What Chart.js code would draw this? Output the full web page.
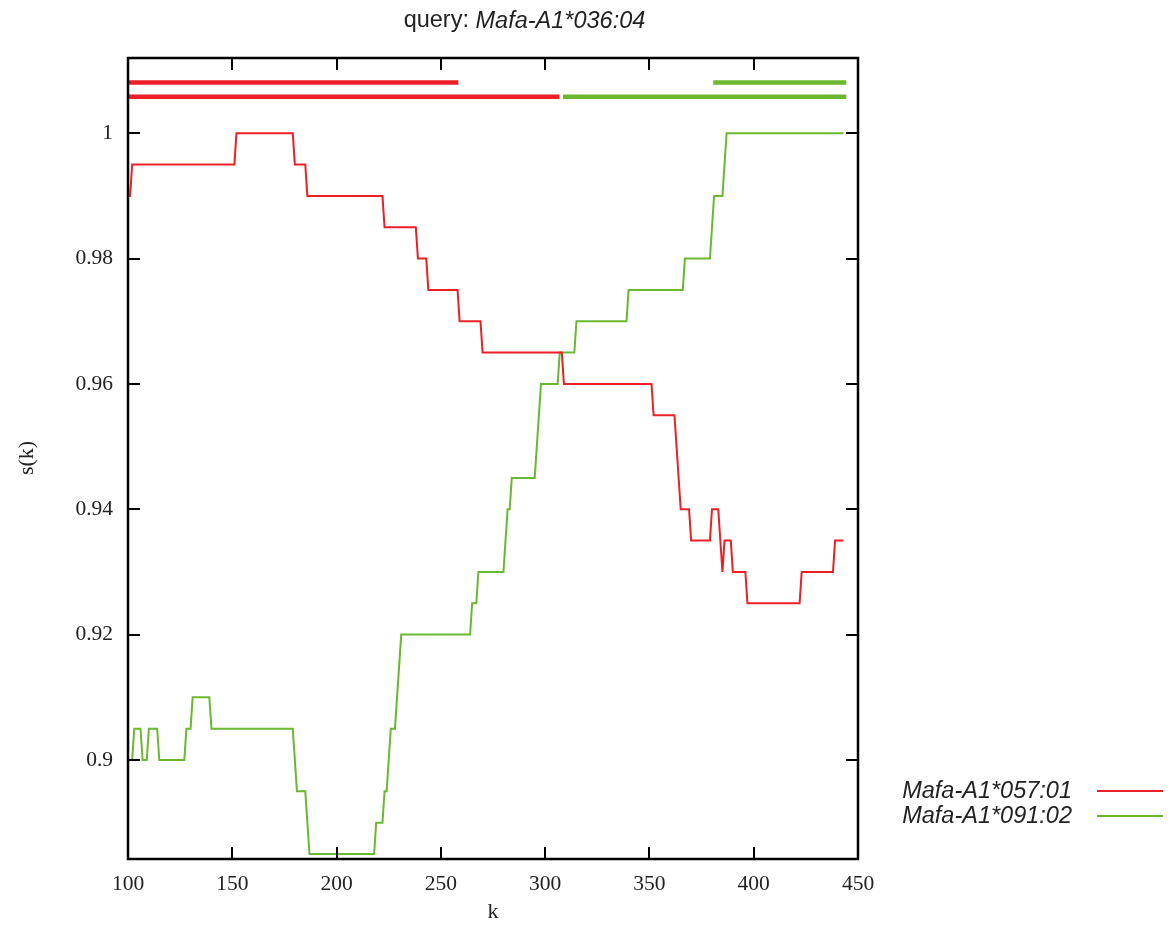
<!DOCTYPE html>
<html>
<head>
<meta charset="utf-8">
<script src="https://cdn.jsdelivr.net/npm/chart.js@4/dist/chart.umd.min.js"></script>
<style>
  html, body { margin: 0; padding: 0; background: #ffffff; }
  #wrap { width: 1171px; height: 931px; }
</style>
</head>
<body>
<div id="wrap"><canvas id="c" width="1171" height="931"></canvas></div>
<script>
// ---- data ----
const titlePrefix = "query: ";
const queryName = "Mafa-A1*036:04";
const xLabel = "k";
const yLabel = "s(k)";
const xTicks = [100, 150, 200, 250, 300, 350, 400, 450];
const yTicks = [0.9, 0.92, 0.94, 0.96, 0.98, 1];

const redLabel = "Mafa-A1*057:01";
const redK = [100, 101, 102, 151, 152, 179, 180, 185, 186, 222, 223, 238, 239, 243, 244, 258, 259, 269, 270, 308, 309,
              351, 352, 362, 365, 369, 370, 379, 380, 383, 385, 386, 389, 390, 396, 397, 422, 423, 438, 439, 443];
const redS = [0.99, 0.99, 0.995, 0.995, 1.0, 1.0, 0.995, 0.995, 0.99, 0.99, 0.985, 0.985, 0.98, 0.98, 0.975, 0.975, 0.97, 0.97, 0.965, 0.965, 0.96,
              0.96, 0.955, 0.955, 0.94, 0.94, 0.935, 0.935, 0.94, 0.94, 0.93, 0.935, 0.935, 0.93, 0.93, 0.925, 0.925, 0.93, 0.93, 0.935, 0.935];

const greenLabel = "Mafa-A1*091:02";
const greenK = [100, 102, 103, 106, 107, 109, 110, 114, 115, 127, 128, 130, 131, 139, 140, 179, 181, 185, 187, 218, 219, 222, 223, 224, 226, 228, 231,
                264, 265, 267, 268, 280, 282, 283, 284, 295, 298, 306, 307, 314, 315, 339, 340, 366, 367, 379, 381, 385, 387, 443];
const greenS = [0.9, 0.9, 0.905, 0.905, 0.9, 0.9, 0.905, 0.905, 0.9, 0.9, 0.905, 0.905, 0.91, 0.91, 0.905, 0.905, 0.895, 0.895, 0.885, 0.885, 0.89, 0.89, 0.895, 0.895, 0.905, 0.905, 0.92,
                0.92, 0.925, 0.925, 0.93, 0.93, 0.94, 0.94, 0.945, 0.945, 0.96, 0.96, 0.965, 0.965, 0.97, 0.97, 0.975, 0.975, 0.98, 0.98, 0.99, 0.99, 1.0, 1.0];

// top indicator bars: [start k, end k] at a fixed level
const barLevels = [1.0081, 1.0058];
const bar1Red = [100, 258.4];
const bar1Green = [380.6, 444.4];
const bar2Red = [100, 306.9];
const bar2Green = [308.5, 444.4];

const RED = "rgb(234,32,38)";
const GREEN = "rgb(106,184,48)";

function pts(ks, vs) { return ks.map((k, i) => ({ x: k, y: vs[i] })); }
function seg(r, lvl) { return [{ x: r[0], y: lvl }, { x: r[1], y: lvl }]; }

const PLOT = { left: 128, top: 58, right: 858, bottom: 859 };

const decor = {
  id: 'decor',
  afterDatasetsDraw(chart) {
    const ctx = chart.ctx;
    const xs = chart.scales.x, ys = chart.scales.y;
    const a = chart.chartArea;
    ctx.save();
    ctx.strokeStyle = '#000';
    ctx.lineWidth = 2;
    // inward ticks
    const TL = 12;
    ctx.beginPath();
    xTicks.forEach(v => {
      const px = Math.round(xs.getPixelForValue(v));
      ctx.moveTo(px, a.bottom); ctx.lineTo(px, a.bottom - TL);
      ctx.moveTo(px, a.top); ctx.lineTo(px, a.top + TL);
    });
    yTicks.forEach(v => {
      const py = Math.round(ys.getPixelForValue(v));
      ctx.moveTo(a.left, py); ctx.lineTo(a.left + TL, py);
      ctx.moveTo(a.right, py); ctx.lineTo(a.right - TL, py);
    });
    ctx.stroke();
    ctx.lineWidth = 2.5;
    ctx.strokeRect(a.left, a.top, a.right - a.left, a.bottom - a.top);

    // title
    ctx.fillStyle = '#222';
    ctx.textBaseline = 'middle';
    ctx.textAlign = 'left';
    const fN = '23.5px "Liberation Sans", Arial, sans-serif';
    const fI = 'italic 23.5px "Liberation Sans", Arial, sans-serif';
    ctx.font = fN; const w1 = ctx.measureText(titlePrefix).width;
    ctx.font = fI; const w2 = ctx.measureText(queryName).width;
    const tx = 524.5 - (w1 + w2) / 2;
    ctx.font = fN; ctx.fillText(titlePrefix, tx, 21);
    ctx.font = fI; ctx.fillText(queryName, tx + w1, 21);

    // axis labels
    ctx.font = '22px "Liberation Serif", "Times New Roman", serif';
    ctx.textAlign = 'center';
    ctx.fillText(xLabel, (a.left + a.right) / 2, 912);
    ctx.save();
    ctx.translate(27, 458);
    ctx.rotate(-Math.PI / 2);
    ctx.fillText(yLabel, 0, 0);
    ctx.restore();

    // legend
    ctx.font = 'italic 23.5px "Liberation Sans", Arial, sans-serif';
    ctx.textAlign = 'right';
    const items = [[redLabel, RED, 791], [greenLabel, GREEN, 816]];
    items.forEach(([t, c, y]) => {
      ctx.fillStyle = '#222';
      ctx.fillText(t, 1072, y);
      ctx.strokeStyle = c;
      ctx.lineWidth = 2;
      ctx.beginPath(); ctx.moveTo(1097, y); ctx.lineTo(1163, y); ctx.stroke();
    });
    ctx.restore();
  }
};

new Chart(document.getElementById('c'), {
  type: 'line',
  data: {
    datasets: [
      { label: redLabel, data: pts(redK, redS), borderColor: RED, borderWidth: 2, pointRadius: 0, tension: 0, fill: false },
      { label: greenLabel, data: pts(greenK, greenS), borderColor: GREEN, borderWidth: 2, pointRadius: 0, tension: 0, fill: false },
      { label: 'bar1r', data: seg(bar1Red, barLevels[0]), borderColor: RED, borderWidth: 4.5, pointRadius: 0, borderCapStyle: 'butt' },
      { label: 'bar1g', data: seg(bar1Green, barLevels[0]), borderColor: GREEN, borderWidth: 4.5, pointRadius: 0, borderCapStyle: 'butt' },
      { label: 'bar2r', data: seg(bar2Red, barLevels[1]), borderColor: RED, borderWidth: 4.5, pointRadius: 0, borderCapStyle: 'butt' },
      { label: 'bar2g', data: seg(bar2Green, barLevels[1]), borderColor: GREEN, borderWidth: 4.5, pointRadius: 0, borderCapStyle: 'butt' }
    ]
  },
  options: {
    responsive: false,
    animation: false,
    devicePixelRatio: 1,
    layout: { padding: { left: 0, top: PLOT.top, right: 1171 - PLOT.right, bottom: 0 } },
    plugins: { legend: { display: false }, title: { display: false }, tooltip: { enabled: false } },
    scales: {
      x: {
        type: 'linear', min: 100, max: 450,
        afterFit(s) { s.height = 931 - PLOT.bottom; },
        afterBuildTicks(s) { s.ticks = xTicks.map(v => ({ value: v })); },
        grid: { display: false, drawTicks: false },
        border: { display: false },
        ticks: { padding: 12, color: '#222', font: { family: '"Liberation Serif", "Times New Roman", serif', size: 21.5 },
                 maxRotation: 0, autoSkip: false, callback: v => String(v) }
      },
      y: {
        type: 'linear', min: 0.8842, max: 1.012,
        afterFit(s) { s.width = PLOT.left; },
        afterBuildTicks(s) { s.ticks = yTicks.map(v => ({ value: v })); },
        grid: { display: false, drawTicks: false },
        border: { display: false },
        ticks: { padding: 15, color: '#222', font: { family: '"Liberation Serif", "Times New Roman", serif', size: 21.5 },
                 autoSkip: false, callback: v => String(Number(v.toFixed(2))) }
      }
    }
  },
  plugins: [decor]
});
</script>
</body>
</html>
